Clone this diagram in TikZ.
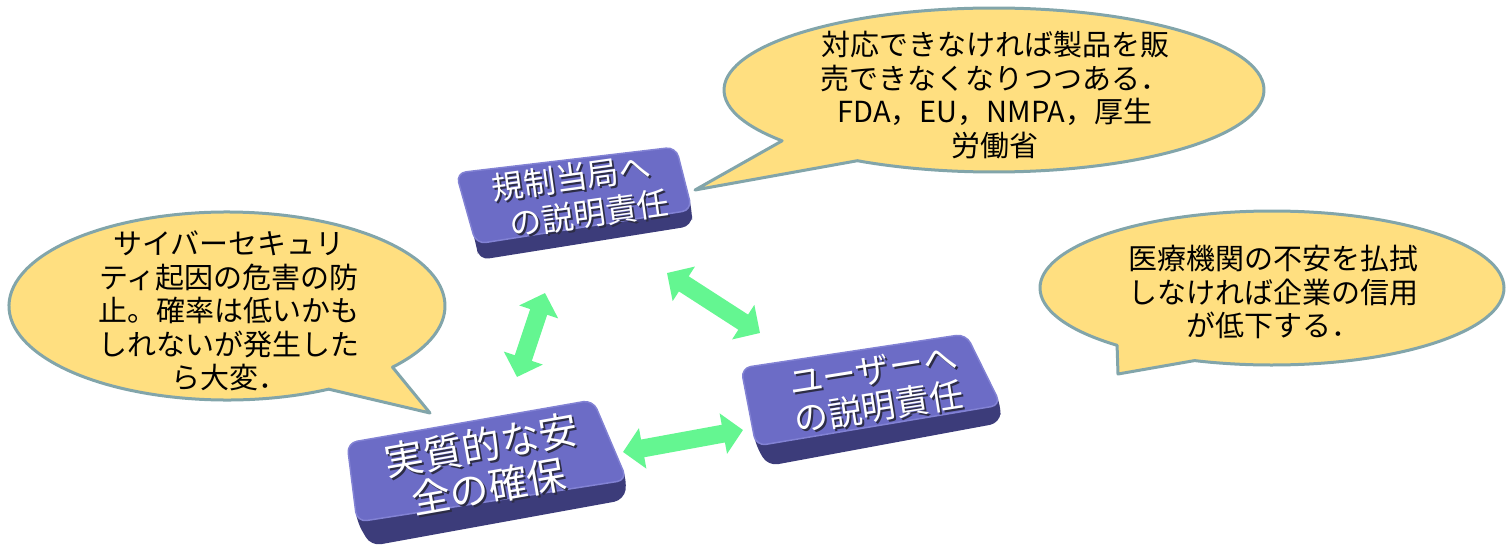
\documentclass[tikz,border=0pt]{standalone}
\usepackage{fontspec}
\newfontfamily\jp{Noto Sans CJK JP}
\usetikzlibrary{arrows.meta,calc}
\definecolor{calloutfill}{RGB}{255,223,128}
\definecolor{calloutline}{RGB}{130,165,170}
\definecolor{btntopc}{RGB}{108,108,198}
\definecolor{btnsidec}{RGB}{60,60,122}
\definecolor{btnrimc}{RGB}{130,130,212}
\definecolor{arrowgreen}{RGB}{100,246,145}
\definecolor{txtshadow}{RGB}{45,45,70}
\tikzset{
  callout/.style={fill=calloutfill, draw=calloutline, line width=3pt, line join=round},
  callouttext/.style={font=\jp\fontsize{29}{33.5}\selectfont, align=center, text=black, inner sep=0pt},
  btnsidestyle/.style={fill=btnsidec, rounded corners=10pt},
  btnfacestyle/.style={fill=btntopc, draw=btnrimc, line width=1.5pt, rounded corners=10pt},
  btntext/.style={align=center, text=white, inner sep=0pt},
  btnshadow/.style={align=center, text=txtshadow, inner sep=0pt},
  link/.style={draw=arrowgreen, line width=18pt,
    {Triangle[width=40pt,length=20pt]}-{Triangle[width=40pt,length=20pt]}},
}
\begin{document}
\begin{tikzpicture}[x=1pt,y=-1pt]
\useasboundingbox (0,0) rectangle (1512,554);

% ---------- callouts ----------
\coordinate (c1) at (994,90);
\draw[callout] (c1) ++(141.7:270 and 82)
  arc[start angle=141.7, end angle=480.4, x radius=270, y radius=82]
  -- (695,190) -- cycle;
\node[callouttext] (t-c1) at (995,95)
  {対応できなければ製品を販\\売できなくなりつつある．\\FDA，EU，NMPA，厚生\\労働省};

\coordinate (c2) at (227,306);
\draw[callout] (c2) ++(62.2:218 and 94)
  arc[start angle=62.2, end angle=400.6, x radius=218, y radius=94]
  -- (430,413) -- cycle;
\node[callouttext] (t-c2) at (229,311)
  {サイバーセキュリ\\ティ起因の危害の防\\止。確率は低いかも\\しれないが発生した\\ら大変．};

\coordinate (c3) at (1272,288);
\draw[callout] (c3) ++(131.9:232 and 77)
  arc[start angle=131.9, end angle=469.5, x radius=232, y radius=77]
  -- (1118,374) -- cycle;
\node[callouttext] (t-c3) at (1273,292)
  {医療機関の不安を払拭\\しなければ企業の信用\\が低下する．};

% ---------- button 1 ----------
\coordinate (b1tl) at (456,173);
\coordinate (b1tr) at (676,147);
\coordinate (b1br) at (692,210);
\coordinate (b1bl) at (476,244);
\fill[btnsidestyle] (b1tl) -- (b1bl) -- ($(b1bl)+(3,16)$) -- ($(b1br)+(0,16)$) -- (b1br) -- (b1tr) -- cycle;
\filldraw[btnfacestyle] (b1tl) -- (b1tr) -- (b1br) -- (b1bl) -- cycle;
\node[btnshadow, font=\jp\fontsize{32}{38}\selectfont, rotate=8] (t1s) at (576,198.5)
  {規制当局へ\\\hspace*{26pt}の説明責任};
\node[btntext, font=\jp\fontsize{32}{38}\selectfont, rotate=8] (t1) at (574,196.5)
  {規制当局へ\\\hspace*{26pt}の説明責任};

% ---------- button 2 ----------
\coordinate (b2tl) at (741,368);
\coordinate (b2tr) at (966,334);
\coordinate (b2br) at (1001,405);
\coordinate (b2bl) at (756,446);
\fill[btnsidestyle] (b2tl) -- (b2bl) -- ($(b2bl)+(12,20)$) -- ($(b2br)+(-1,18)$) -- (b2br) -- (b2tr) -- cycle;
\filldraw[btnfacestyle] (b2tl) -- (b2tr) -- (b2br) -- (b2bl) -- cycle;
\node[btnshadow, font=\jp\fontsize{34}{37}\selectfont, rotate=9] (t2s) at (878,391)
  {ユーザーへ\\の説明責任};
\node[btntext, font=\jp\fontsize{34}{37}\selectfont, rotate=9] (t2) at (876,389)
  {ユーザーへ\\の説明責任};

% ---------- button 3 ----------
\coordinate (b3tl) at (347,443);
\coordinate (b3tr) at (593,400);
\coordinate (b3br) at (627,480);
\coordinate (b3bl) at (357,522);
\fill[btnsidestyle] (b3tl) -- (b3bl) -- ($(b3bl)+(14,24)$) -- ($(b3br)+(-3,20)$) -- (b3br) -- (b3tr) -- cycle;
\filldraw[btnfacestyle] (b3tl) -- (b3tr) -- (b3br) -- (b3bl) -- cycle;
\node[btnshadow, font=\jp\fontsize{39}{42}\selectfont, rotate=10] (t3s) at (487,468)
  {実質的な安\\全の確保};
\node[btntext, font=\jp\fontsize{39}{42}\selectfont, rotate=10] (t3) at (485,466)
  {実質的な安\\全の確保};

% ---------- arrows ----------
\coordinate (a1s) at (545,293);
\coordinate (a1e) at (517,377);
\coordinate (a2s) at (667,273);
\coordinate (a2e) at (760,333);
\coordinate (a3s) at (623,452);
\coordinate (a3e) at (743,430);
\draw[link] (a1s) -- (a1e);
\draw[link] (a2s) -- (a2e);
\draw[link] (a3s) -- (a3e);
\end{tikzpicture}
\end{document}
